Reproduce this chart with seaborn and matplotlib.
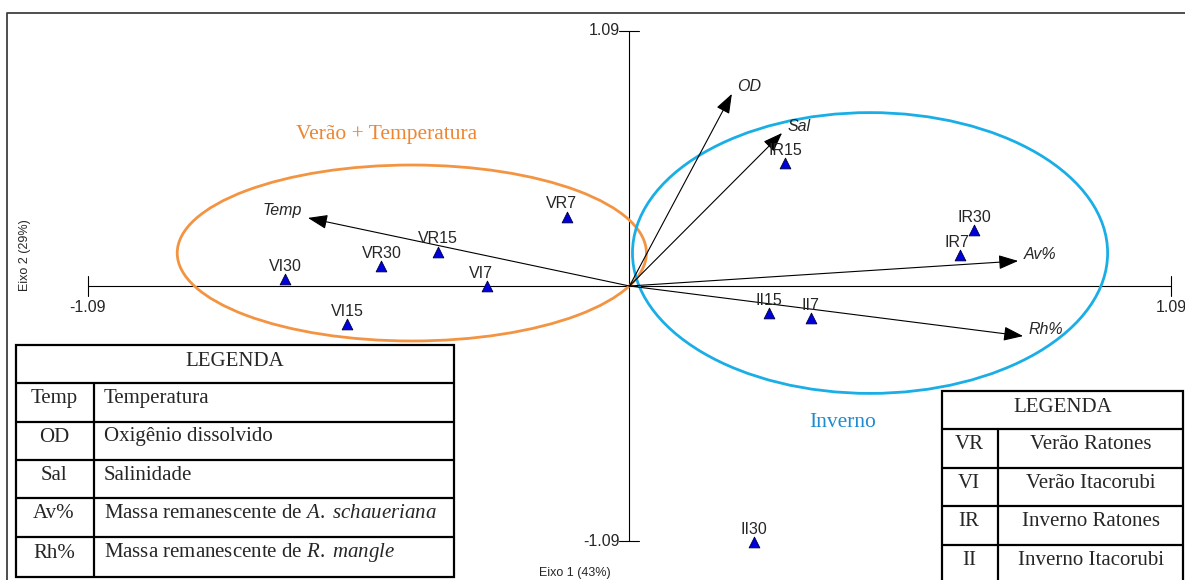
import numpy as np
import seaborn as sns
import matplotlib.pyplot as plt
from matplotlib.patches import Ellipse, Rectangle

# Sites (samples) on the PCA biplot
sites = ["VR7", "VR15", "VR30", "VI7", "VI15", "VI30",
         "IR7", "IR15", "IR30", "II7", "II15", "II30"]
site_x = [-0.125, -0.386, -0.499, -0.287, -0.568, -0.693,
          0.665, 0.313, 0.694, 0.365, 0.281, 0.251]
site_y = [0.296, 0.147, 0.085, 0.000, -0.162, 0.030,
          0.132, 0.526, 0.239, -0.137, -0.115, -1.094]

# Environmental vectors
variables = ["Temp", "OD", "Sal", "Av%", "Rh%"]
var_x = [-0.647, 0.206, 0.307, 0.782, 0.792]
var_y = [0.291, 0.821, 0.654, 0.107, -0.214]

# Group ellipses (center x, center y, width, height)
groups = ["Verão + Temperatura", "Inverno"]
ell_cx = [-0.438, 0.484]
ell_cy = [0.141, 0.141]
ell_w = [0.944, 0.956]
ell_h = [0.752, 1.200]

axis_lim = 1.09

legend_vars = [("Temp", "Temperatura"),
               ("OD", "Oxigênio dissolvido"),
               ("Sal", "Salinidade"),
               ("Av%", r"Massa remanescente de $\mathit{A.}$ $\mathit{schaueriana}$"),
               ("Rh%", r"Massa remanescente de $\mathit{R.}$ $\mathit{mangle}$")]
legend_sites = [("VR", "Verão Ratones"), ("VI", "Verão Itacorubi"),
                ("IR", "Inverno Ratones"), ("II", "Inverno Itacorubi")]

sns.set_style("white")
plt.rcParams["font.family"] = ["Liberation Sans", "DejaVu Sans"]
plt.rcParams["mathtext.fontset"] = "custom"
plt.rcParams["mathtext.rm"] = "Liberation Serif"
plt.rcParams["mathtext.it"] = "Liberation Serif:italic"

W, H = 1185, 580
fig = plt.figure(figsize=(W / 100, H / 100), dpi=100)
ax = fig.add_axes([0, 0, 1, 1])

# pixel mapping of the original figure
ox, oy, sx, sy = 629.5, 286.0, 497.0, 234.0

# axes lines with crossing ticks
ax.plot([-axis_lim, axis_lim], [0, 0], color="black", lw=0.8, zorder=1)
ax.plot([0, 0], [-axis_lim, axis_lim], color="black", lw=0.8, zorder=1)
tx, ty = 10 / sx, 10 / sy
for v in (-axis_lim, axis_lim):
    ax.plot([v, v], [-ty, ty], color="black", lw=0.8)
    ax.plot([-tx, tx], [v, v], color="black", lw=0.8)
ax.text(-axis_lim, -14 / sy, "-1.09", ha="center", va="top", fontsize=11.5)
ax.text(axis_lim, -14 / sy, "1.09", ha="center", va="top", fontsize=11.5)
ax.text(-tx, axis_lim, "1.09", ha="right", va="center", fontsize=11.5)
ax.text(-tx, -axis_lim, "-1.09", ha="right", va="center", fontsize=11.5)

# ellipses
ell_colors = ["#F39442", "#1AAEE6"]
for cx, cy, w, h, c in zip(ell_cx, ell_cy, ell_w, ell_h, ell_colors):
    ax.add_patch(Ellipse((cx, cy), w, h, fill=False, edgecolor=c, lw=2.0, zorder=2))
ax.text((387 - ox) / sx, (oy - 134) / sy, groups[0], color="#EE8530",
        family="Liberation Serif", fontsize=15.5, ha="center", va="center")
ax.text((843 - ox) / sx, (oy - 422) / sy, groups[1], color="#1E8CD2",
        family="Liberation Serif", fontsize=15.5, ha="center", va="center")

# vectors
for name, vx, vy in zip(variables, var_x, var_y):
    ax.annotate("", xy=(vx, vy), xytext=(0, 0),
                arrowprops=dict(arrowstyle="-|>,head_length=0.6,head_width=0.22",
                                mutation_scale=20, color="black", lw=0.8,
                                shrinkA=0, shrinkB=0), zorder=3)
    if name == "Temp":
        ax.annotate(name, (vx, vy), xytext=(-4, 5), textcoords="offset points",
                    ha="right", va="center", style="italic", fontsize=11.5)
    else:
        ax.annotate(name, (vx, vy), xytext=(4, 5), textcoords="offset points",
                    ha="left", va="center", style="italic", fontsize=11.5)

# sites
sns.scatterplot(x=site_x, y=site_y, marker="^", s=60, color="#0000DD",
                edgecolor="#000033", linewidth=0.6, ax=ax, zorder=4, legend=False)
label_dx = {"VR7": -4, "VI7": -4, "IR7": -2}
for name, x, y in zip(sites, site_x, site_y):
    ax.annotate(name, (x, y), xytext=(label_dx.get(name, 0), 6),
                textcoords="offset points", ha="center", va="baseline",
                fontsize=11.5)
ax.set_xlim((0 - ox) / sx, (W - ox) / sx)
ax.set_ylim((oy - H) / sy, oy / sy)
ax.axis("off")

# overlay in pixel coordinates: frame, axis titles, tables
ov = fig.add_axes([0, 0, 1, 1], zorder=5)
ov.set_xlim(0, W)
ov.set_ylim(H, 0)
ov.axis("off")
ov.patch.set_alpha(0)
ov.plot([7, 7, W], [H, 13, 13], color="#404040", lw=1.3)
ov.text(25, 255, "Eixo 2 (29%)", rotation=90, ha="center", va="center", fontsize=9)
ov.text(575, 579, "Eixo 1 (43%)", ha="center", va="bottom", fontsize=9)


def draw_table(x0, x1, xdiv, rows, header, entries, center_desc):
    ov.add_patch(Rectangle((x0, rows[0]), x1 - x0, rows[-1] - rows[0],
                           facecolor="white", edgecolor="black", lw=1.6))
    for r in rows[1:-1]:
        ov.plot([x0, x1], [r, r], color="black", lw=1.6)
    ov.plot([xdiv, xdiv], [rows[1], rows[-1]], color="black", lw=1.6)
    ov.text((x0 + x1) / 2, (rows[0] + rows[1]) / 2 - 3, header,
            family="Liberation Serif", fontsize=15, ha="center", va="center")
    for (abbr, desc), r0, r1 in zip(entries, rows[1:-1], rows[2:]):
        yc = (r0 + r1) / 2 - 4
        ov.text((x0 + xdiv) / 2 - 1, yc, abbr, family="Liberation Serif",
                fontsize=15, ha="center", va="center")
        if center_desc:
            ov.text((xdiv + x1) / 2, yc, desc, family="Liberation Serif",
                    fontsize=15, ha="center", va="center")
        else:
            ov.text(xdiv + 10, yc, desc, family="Liberation Serif",
                    fontsize=15, ha="left", va="center")


draw_table(16, 454, 94, [345, 383, 422, 460, 498, 537, 577],
           "LEGENDA", legend_vars, False)
draw_table(942, 1183, 998, [391, 429, 468, 506, 545, 584],
           "LEGENDA", legend_sites, True)

plt.savefig("out.png", dpi=100)
